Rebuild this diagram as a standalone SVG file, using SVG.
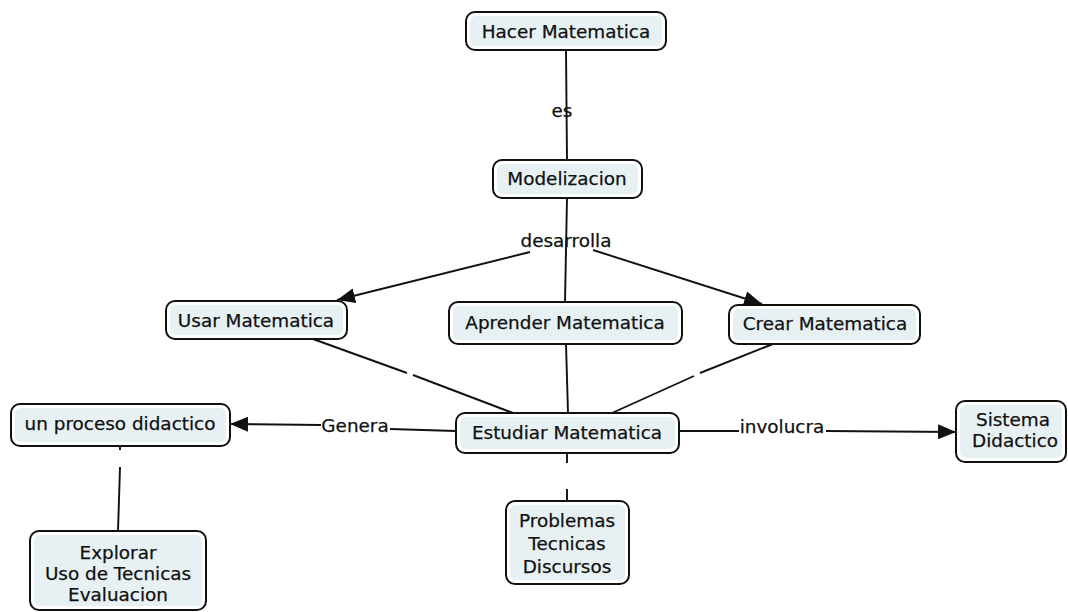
<svg xmlns="http://www.w3.org/2000/svg" width="1068" height="612" viewBox="0 0 1068 612">
  <defs>
    <style>
      .box { fill: #ffffff; stroke: #111; stroke-width: 2; }
      .inner { fill: #e7f0f3; stroke: none; }
      .t { font-family: "DejaVu Sans", Verdana, sans-serif; font-size: 18.4px; fill: #111; stroke: #111; stroke-width: 0.25; text-anchor: middle; }
      .lbl { font-family: "DejaVu Sans", Verdana, sans-serif; font-size: 18.4px; fill: #111; stroke: #111; stroke-width: 0.25; text-anchor: middle; }
      .ln { stroke: #111; stroke-width: 1.9; fill: none; }
    </style>
    <marker id="arrow" markerUnits="userSpaceOnUse" markerWidth="20" markerHeight="16" refX="18" refY="7.5" orient="auto">
      <path d="M0,0 L18,7.5 L0,15 z" fill="#111"/>
    </marker>
  </defs>

  <rect width="1068" height="612" fill="#ffffff"/>

  <!-- connectors -->
  <g id="connectors">
    <!-- Hacer Matematica - es - Modelizacion -->
    <line class="ln" x1="566" y1="50" x2="567" y2="160"/>
    <text class="lbl" x="562" y="117">es</text>

    <!-- Modelizacion - desarrolla - Usar / Aprender / Crear -->
    <line class="ln" x1="567" y1="198" x2="565" y2="302"/>
    <text class="lbl" x="566" y="247">desarrolla</text>
    <line class="ln" x1="530" y1="252" x2="337" y2="300" marker-end="url(#arrow)"/>
    <line class="ln" x1="593" y1="250" x2="762" y2="304" marker-end="url(#arrow)"/>

    <!-- Usar / Aprender / Crear - Estudiar -->
    <line class="ln" x1="313" y1="339" x2="407" y2="373"/>
    <line class="ln" x1="413" y1="375" x2="513" y2="413"/>
    <line class="ln" x1="566" y1="344" x2="568" y2="413"/>
    <line class="ln" x1="773" y1="344" x2="700" y2="373"/>
    <line class="ln" x1="694" y1="376" x2="612" y2="413"/>

    <!-- Estudiar - Genera - un proceso didactico -->
    <line class="ln" x1="456" y1="431" x2="390" y2="429"/>
    <text class="lbl" x="355" y="432">Genera</text>
    <line class="ln" x1="321" y1="425" x2="230" y2="424" marker-end="url(#arrow)"/>

    <!-- Estudiar - involucra - Sistema Didactico -->
    <line class="ln" x1="679" y1="431" x2="739" y2="431"/>
    <text class="lbl" x="782" y="433">involucra</text>
    <line class="ln" x1="826" y1="431" x2="956" y2="432" marker-end="url(#arrow)"/>

    <!-- Estudiar - Problemas -->
    <line class="ln" x1="567" y1="453" x2="567" y2="463"/>
    <line class="ln" x1="567" y1="489" x2="567" y2="501"/>

    <!-- un proceso didactico - Explorar -->
    <line class="ln" x1="120" y1="446" x2="120" y2="450"/>
    <line class="ln" x1="120" y1="467" x2="118" y2="531"/>
  </g>

  <!-- nodes -->
  <g id="hacer">
    <rect class="box" x="466" y="12" width="200" height="38" rx="9"/>
    <rect class="inner" x="470" y="16" width="192" height="30" rx="6"/>
    <text class="t" x="566" y="38">Hacer Matematica</text>
  </g>

  <g id="modelizacion">
    <rect class="box" x="493" y="160" width="149" height="38" rx="9"/>
    <rect class="inner" x="497" y="164" width="141" height="30" rx="6"/>
    <text class="t" x="567" y="185">Modelizacion</text>
  </g>

  <g id="usar">
    <rect class="box" x="166" y="301" width="181" height="38" rx="9"/>
    <rect class="inner" x="170" y="305" width="173" height="30" rx="6"/>
    <text class="t" x="256" y="327">Usar Matematica</text>
  </g>

  <g id="aprender">
    <rect class="box" x="449" y="302" width="233" height="42" rx="9"/>
    <rect class="inner" x="453" y="306" width="225" height="34" rx="6"/>
    <text class="t" x="565" y="329">Aprender Matematica</text>
  </g>

  <g id="crear">
    <rect class="box" x="729" y="305" width="191" height="39" rx="9"/>
    <rect class="inner" x="733" y="309" width="183" height="31" rx="6"/>
    <text class="t" x="825" y="330">Crear Matematica</text>
  </g>

  <g id="estudiar">
    <rect class="box" x="456" y="413" width="223" height="40" rx="9"/>
    <rect class="inner" x="460" y="417" width="215" height="32" rx="6"/>
    <text class="t" x="567" y="439">Estudiar Matematica</text>
  </g>

  <g id="proceso">
    <rect class="box" x="11" y="404" width="219" height="42" rx="9"/>
    <rect class="inner" x="15" y="408" width="211" height="34" rx="6"/>
    <text class="t" x="120" y="430">un proceso didactico</text>
  </g>

  <g id="sistema">
    <rect class="box" x="956" y="401" width="110" height="61" rx="9"/>
    <rect class="inner" x="960" y="405" width="102" height="53" rx="6"/>
    <text class="t" x="1013" y="426">Sistema</text>
    <text class="t" x="1015" y="447">Didactico</text>
  </g>

  <g id="problemas">
    <rect class="box" x="506" y="501" width="123" height="83" rx="9"/>
    <rect class="inner" x="510" y="505" width="115" height="75" rx="6"/>
    <text class="t" x="567" y="527">Problemas</text>
    <text class="t" x="567" y="550">Tecnicas</text>
    <text class="t" x="567" y="573">Discursos</text>
  </g>

  <g id="explorar">
    <rect class="box" x="30" y="531" width="176" height="79" rx="9"/>
    <rect class="inner" x="34" y="535" width="168" height="71" rx="6"/>
    <text class="t" x="118" y="559">Explorar</text>
    <text class="t" x="118" y="580">Uso de Tecnicas</text>
    <text class="t" x="118" y="601">Evaluacion</text>
  </g>
</svg>
